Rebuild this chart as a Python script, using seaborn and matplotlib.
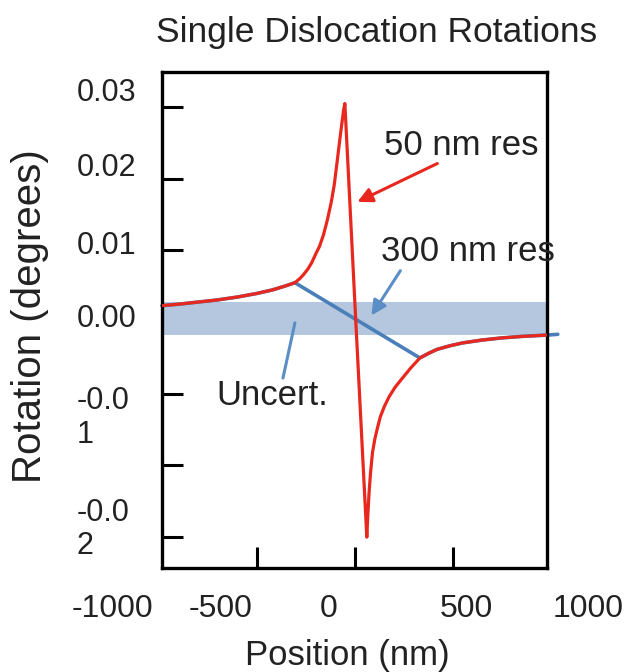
import numpy as np
import pandas as pd
import matplotlib
matplotlib.use("Agg")
import matplotlib.pyplot as plt
import seaborn as sns

# values
pos_50nm = [-985, -900, -800, -700, -600, -500, -420, -360, -306, -280, -260, -240, -220,
            -200, -180, -160, -140, -120, -105, -90, -78, -66, -58, -51,
            5, 61, 66, 72, 80, 90, 102, 115, 130, 150, 175, 205, 240, 285, 332,
            380, 420, 485, 550, 650, 750, 850, 985]
rot_50nm = [0.0023, 0.0025, 0.0028, 0.0031, 0.0035, 0.0040, 0.0045, 0.0050, 0.0055, 0.0061,
            0.0067, 0.0074, 0.0083, 0.0095, 0.0106, 0.0122, 0.0143, 0.0168, 0.0192, 0.0225,
            0.0252, 0.0278, 0.0295, 0.0305,
            0.0000, -0.0300, -0.0270, -0.0240, -0.0210, -0.0182, -0.0163, -0.0148, -0.0132,
            -0.0118, -0.0104, -0.0091, -0.0079, -0.0064, -0.0050,
            -0.0043, -0.0038, -0.0033, -0.0029, -0.0025, -0.0022, -0.0020, -0.0018]

pos_300nm = [-985, -900, -800, -700, -600, -500, -420, -360, -306, 332,
             380, 420, 485, 550, 650, 750, 850, 985, 1036]
rot_300nm = [0.0023, 0.0025, 0.0028, 0.0031, 0.0035, 0.0040, 0.0045, 0.0050, 0.0055, -0.0050,
             -0.0043, -0.0038, -0.0033, -0.0029, -0.0025, -0.0022, -0.0020, -0.0018, -0.0017]

uncert_band = (-0.0018, 0.0028)

x_ticks = [-500, 0, 500]
y_ticks = [-0.03, -0.02, -0.01, 0.0, 0.01, 0.02, 0.03]

# the slide's tick labels do not sit on the ticks
x_tick_text = ["-1000", "-500", "0", "500", "1000"]
x_tick_at = [-1240, -684, -133, 571, 1189]
y_tick_text = ["0.03", "0.02", "0.01", "0.00", "-0.0\n1", "-0.0\n2"]
y_tick_at = [0.0319, 0.0215, 0.0106, 0.0004, -0.0134, -0.0289]

red = "#e8281e"
blue = "#4a7fba"
light_blue = "#5b8dc6"
txt = "#222222"

sns.set_style("white")
plt.rcParams["font.family"] = ["Liberation Sans", "DejaVu Sans"]

fig = plt.figure(figsize=(6.3, 6.72), dpi=100)
ax = fig.add_axes([0.257, 0.1548, 0.611, 0.7381])

ax.axhspan(uncert_band[0], uncert_band[1], color="#b5c7de", lw=0, zorder=1)

df300 = pd.DataFrame({"pos": pos_300nm, "rot": rot_300nm})
df50 = pd.DataFrame({"pos": pos_50nm, "rot": rot_50nm})
sns.lineplot(data=df300, x="pos", y="rot", color=blue, lw=2.6, sort=False,
             estimator=None, ax=ax, zorder=2)
ax.lines[-1].set_clip_on(False)
sns.lineplot(data=df50, x="pos", y="rot", color=red, lw=2.3, sort=False,
             estimator=None, ax=ax, zorder=3)

ax.set_xlim(-985, 980)
ax.set_ylim(-0.0343, 0.0349)
ax.set_xticks(x_ticks)
ax.set_yticks(y_ticks)
ax.tick_params(direction="in", length=15, width=2.2, color="black",
               labelbottom=False, labelleft=False, bottom=True, left=True)
for s in ax.spines.values():
    s.set_color("black")
    s.set_linewidth(2.4)
ax.set_xlabel("")
ax.set_ylabel("")

# tick labels placed where the slide has them
for t, xv in zip(x_tick_text, x_tick_at):
    ax.text(xv, -0.083, t, transform=ax.get_xaxis_transform(), ha="center",
            va="center", fontsize=23, color=txt, clip_on=False)
for t, yv in zip(y_tick_text, y_tick_at):
    ax.text(-0.221, yv, t, transform=ax.get_yaxis_transform(), ha="left",
            va="center", fontsize=22, color=txt, linespacing=1.15, clip_on=False)

# annotations
ax.annotate("", xy=(0, 0.0166), xytext=(434, 0.0223),
            arrowprops=dict(arrowstyle="-|>", color=red, lw=2.2, mutation_scale=22))
ax.text(541, 0.0247, "50 nm res", ha="center", va="center", fontsize=25, color=txt)
ax.annotate("", xy=(77, 0.0006), xytext=(240, 0.0075),
            arrowprops=dict(arrowstyle="-|>", color=light_blue, lw=2.2, mutation_scale=22))
ax.text(577, 0.0098, "300 nm res", ha="center", va="center", fontsize=25,
        color=txt, clip_on=False, zorder=5)
ax.plot([-306, -367], [-0.0001, -0.0078], color=light_blue, lw=2.2, zorder=4)
ax.text(-423, -0.0103, "Uncert.", ha="center", va="center", fontsize=25, color=txt)

fig.text(0.597, 0.9375, "Single Dislocation Rotations", ha="center", va="baseline",
         fontsize=25.5, color=txt)
fig.text(0.048, 1 - 316 / 672, "Rotation (degrees)", rotation=90, ha="center",
         va="center", fontsize=29, color=txt)
fig.text(0.552, 0.0104, "Position (nm)", ha="center", va="baseline",
         fontsize=25, color=txt)

fig.savefig("out.png", dpi=100)
